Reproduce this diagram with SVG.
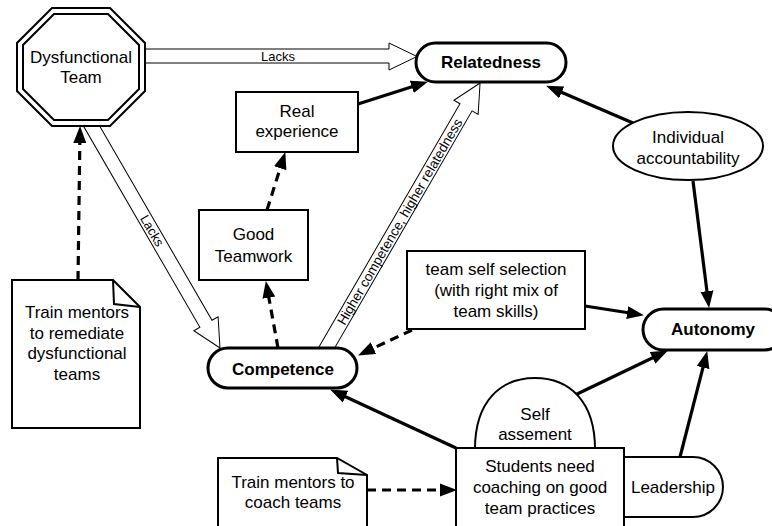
<svg xmlns="http://www.w3.org/2000/svg" width="772" height="526" viewBox="0 0 772 526">
<defs>
<style>
text{font-family:"Liberation Sans",Arial,Helvetica,sans-serif;fill:#000}
.t{font-size:17px;text-anchor:middle}
.b{font-size:17px;font-weight:bold;text-anchor:middle}
.lbl{font-size:13px;text-anchor:middle}
.box{fill:#fff;stroke:#000;stroke-width:2}
.pill{fill:#fff;stroke:#000;stroke-width:3}
.blk{fill:#fff;stroke:#000;stroke-width:1}
.sol{fill:none;stroke:#000;stroke-width:3.2;marker-end:url(#ah)}
.dsh{fill:none;stroke:#000;stroke-width:3.2;stroke-dasharray:9 6;marker-end:url(#ah)}
</style>
<marker id="ah" markerUnits="userSpaceOnUse" markerWidth="18" markerHeight="14" refX="6" refY="7" orient="auto">
<path d="M0,0.5 L17,7 L0,13.5 z" fill="#000"/>
</marker>
</defs>
<rect width="772" height="526" fill="#fff"/>
<g id="connectors">
<polygon class="blk" points="140,49 389,49 389,43 417,56.5 389,70 389,63 140,63"/>
<text class="lbl" x="278" y="60.5">Lacks</text>
<g transform="translate(91.5,126) rotate(59.94)">
<polygon class="blk" points="-12,-7 228.5,-7 228.5,-14 256.5,0 228.5,14 228.5,7 -12,7"/>
<text class="lbl" x="121" y="4.5">Lacks</text>
</g>
<g transform="translate(326.5,348) rotate(-59.9)">
<polygon class="blk" points="-12,-7 278.2,-7 278.2,-14 306.2,0 278.2,14 278.2,7 -12,7"/>
<text class="lbl" x="146" y="4.7" style="font-size:13.5px">Higher competence, higher relatedness</text>
</g>
<path class="sol" d="M358,104 L417.5,85"/>
<path class="sol" d="M633,123 L556.2,90"/>
<path class="sol" d="M693,181 L707.7,297.1"/>
<path class="sol" d="M585,306 L633.1,313.5"/>
<path class="sol" d="M575,395 L658,355.3"/>
<path class="sol" d="M680,457 L704.5,361.7"/>
<path class="sol" d="M456,448 L340.1,394.2"/>
<path class="dsh" d="M267,210 L282,162.5"/>
<path class="dsh" d="M278,348 L267.8,291.8"/>
<path class="dsh" d="M412,330 L368,350.7"/>
<path class="dsh" d="M78,280 L79.9,137"/>
<path class="dsh" d="M367,490 L446,490"/>
</g>
<g id="dysfunctional">
<polygon points="52,8 110,8 145,43 145,91 110,126 52,126 17,91 17,43" fill="#fff" stroke="#000" stroke-width="2"/>
<polygon points="54,14 108,14 139,45 139,89 108,120 54,120 23,89 23,45" fill="#fff" stroke="#000" stroke-width="2"/>
<text class="t" x="81" y="63">Dysfunctional</text>
<text class="t" x="81" y="83">Team</text>
</g>
<g id="relatedness">
<rect class="pill" x="416" y="43" width="150" height="39" rx="19.5"/>
<text class="b" x="491" y="68">Relatedness</text>
</g>
<g id="real-experience">
<rect class="box" x="236" y="92" width="122" height="60"/>
<text class="t" x="297" y="117">Real</text>
<text class="t" x="297" y="137">experience</text>
</g>
<g id="good-teamwork">
<rect class="box" x="199" y="210" width="109" height="70"/>
<text class="t" x="253.5" y="240">Good</text>
<text class="t" x="253.5" y="262">Teamwork</text>
</g>
<g id="competence">
<rect class="pill" x="208" y="348" width="149" height="40" rx="20"/>
<text class="b" x="283" y="375">Competence</text>
</g>
<g id="team-self-selection">
<rect class="box" x="407" y="251" width="178" height="78"/>
<text class="t" x="496" y="275">team self selection</text>
<text class="t" x="496" y="296">(with right mix of</text>
<text class="t" x="496" y="317">team skills)</text>
</g>
<g id="individual-accountability">
<ellipse cx="688" cy="146" rx="75" ry="34" fill="#fff" stroke="#000" stroke-width="2"/>
<text class="t" x="688" y="143">Individual</text>
<text class="t" x="688" y="164">accountability</text>
</g>
<g id="autonomy">
<rect class="pill" x="643" y="309" width="142" height="41" rx="20.5"/>
<text class="b" x="713" y="335">Autonomy</text>
</g>
<g id="self-assessment">
<path d="M475,449 C475,402 500,378 535,378 C570,378 595,402 595,449 Z" fill="#fff" stroke="#000" stroke-width="2"/>
<text class="t" x="535" y="420">Self</text>
<text class="t" x="535" y="440">assement</text>
</g>
<g id="leadership">
<path d="M600,457 L693,457 A30,30 0 0 1 693,517 L600,517 Z" fill="#fff" stroke="#000" stroke-width="2"/>
<text class="t" x="673" y="493">Leadership</text>
</g>
<g id="students">
<rect class="box" x="456" y="448" width="168" height="84"/>
<text class="t" x="540" y="472">Students need</text>
<text class="t" x="540" y="493">coaching on good</text>
<text class="t" x="540" y="514">team practices</text>
</g>
<g id="train-remediate">
<path d="M12,280 L113,280 L140,307 L140,428 L12,428 Z" fill="#fff" stroke="#000" stroke-width="2"/>
<path d="M113,280 L114,304 L140,307" fill="none" stroke="#000" stroke-width="2"/>
<text class="t" x="77" y="318">Train mentors</text>
<text class="t" x="77" y="339">to remediate</text>
<text class="t" x="77" y="359">dysfunctional</text>
<text class="t" x="77" y="380">teams</text>
</g>
<g id="train-coach">
<path d="M218,458 L337,458 L367,475 L367,532 L218,532 Z" fill="#fff" stroke="#000" stroke-width="2"/>
<path d="M337,458 L338,473 L367,475" fill="none" stroke="#000" stroke-width="2"/>
<text class="t" x="293" y="488">Train mentors to</text>
<text class="t" x="293" y="508">coach teams</text>
</g>
</svg>
